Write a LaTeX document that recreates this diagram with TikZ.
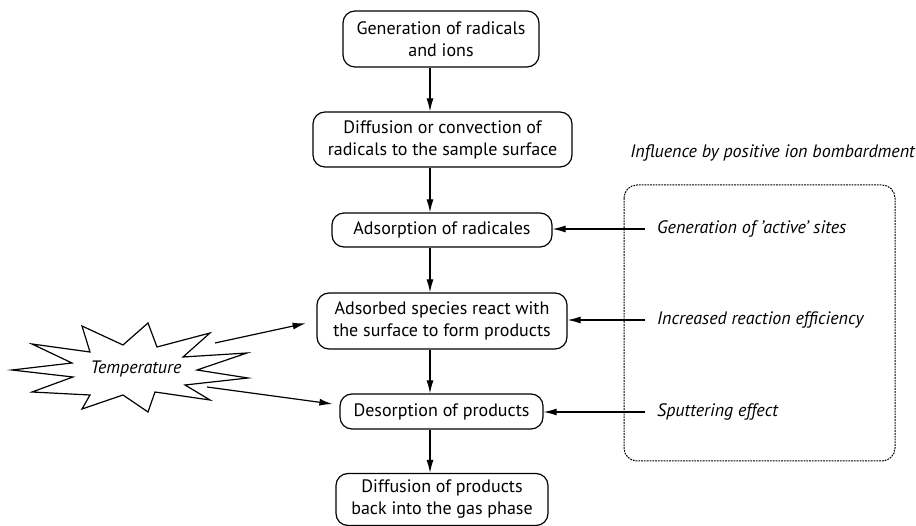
\documentclass[tikz,border=0pt]{standalone}
\usepackage{fontspec}
\setmainfont{PT Sans}
\usetikzlibrary{arrows.meta,calc}
\newcommand{\sq}{{\char39}}
\begin{document}
\begin{tikzpicture}[x=1pt,y=-1pt,
  box/.style={draw,line width=1.2pt,rounded corners=12pt,align=center,inner sep=0pt,font=\fontsize{18}{22}\selectfont},
  arr/.style={line width=1.2pt,-{Latex[length=13pt,width=7pt]}},
  side/.style={anchor=west,inner sep=0pt,font=\fontsize{18}{22}\selectfont\itshape},
  dotbox/.style={draw,line width=1pt,dash pattern=on 1.8pt off 1pt,rounded corners=13pt}]
\useasboundingbox (0,0) rectangle (916,526);
% main boxes
\node[box,minimum width=196pt,minimum height=56pt] (b1) at (441,39) {Generation of radicals\\and ions};
\node[box,minimum width=259pt,minimum height=55pt] (b2) at (442.5,139.5) {Diffusion or convection of\\radicals to the sample surface};
\node[box,minimum width=220pt,minimum height=34pt] (b3) at (442,230) {Adsorption of radicales};
\node[box,minimum width=250pt,minimum height=56pt] (b4) at (442,321) {Adsorbed species react with\\the surface to form products};
\node[box,minimum width=203pt,minimum height=35pt] (b5) at (441.5,411.5) {Desorption of products};
\node[box,minimum width=212pt,minimum height=52pt] (b6) at (442,499.5) {Diffusion of products\\back into the gas phase};
% vertical arrows
\coordinate (ax) at (430,0);
\draw[arr] (b1.south -| ax) -- (b2.north -| ax);
\draw[arr] (b2.south -| ax) -- (b3.north -| ax);
\draw[arr] (b3.south -| ax) -- (b4.north -| ax);
\draw[arr] (b4.south -| ax) -- (b5.north -| ax);
\draw[arr] (b5.south -| ax) -- (b6.north -| ax);
% right group
\draw[dotbox] (624,185) rectangle (895,461);
\node[anchor=east,inner sep=0pt,font=\fontsize{18}{22}\selectfont\itshape] (title) at (915,153) {Influence by positive ion bombardment};
\node[side] (r1) at (657,229) {Generation of \sq active\sq{} sites};
\node[side] (r2) at (657,320) {Increased reaction efficiency};
\node[side] (r3) at (657,412) {Sputtering effect};
\draw[arr,shorten <=12pt] (r1.west) -- (b3.east |- r1.west);
\draw[arr,shorten <=12pt] (r2.west) -- (b4.east |- r2.west);
\draw[arr,shorten <=12pt] (r3.west) -- (b5.east |- r3.west);
% starburst
\draw[line width=1.2pt,line join=miter] (12,370) -- (72,363) -- (32,344) -- (90,352) -- (82,326) -- (123,345) -- (148,323) -- (157,347) -- (210,333) -- (183,357) -- (247,353) -- (197,370) -- (248,378) -- (185,385) -- (210,400) -- (155,392) -- (148,412) -- (123,395) -- (82,409) -- (90,395) -- (32,392) -- (73,377) -- cycle;
\node[inner sep=0pt,font=\fontsize{18}{22}\selectfont\itshape] (temp) at (136,369) {Temperature};
\coordinate (t1) at (215,343);
\coordinate (t2) at (207,387);
\draw[arr,shorten >=11pt] (t1) -- (b4.west);
\draw[arr] (t2) -- ($(b5.west)+(-7,-7.5)$);
\end{tikzpicture}
\end{document}
